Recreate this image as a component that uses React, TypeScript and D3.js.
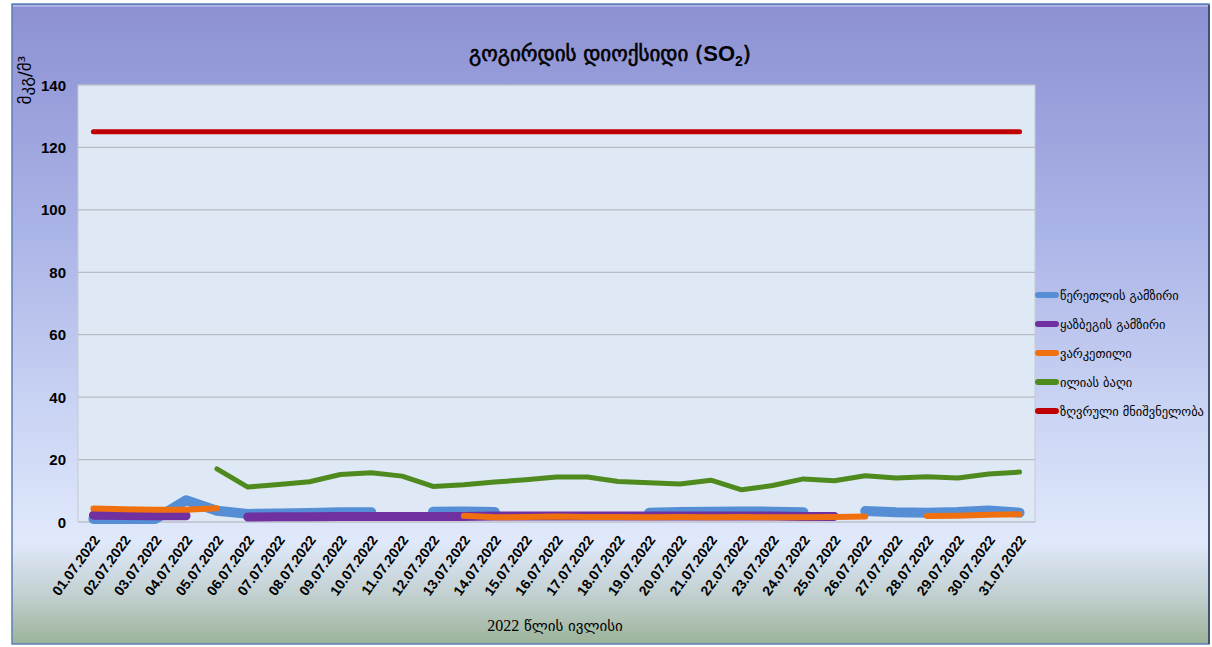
import React from "react";
import * as d3 from "d3";

const dates = [
  "01.07.2022","02.07.2022","03.07.2022","04.07.2022","05.07.2022","06.07.2022","07.07.2022","08.07.2022",
  "09.07.2022","10.07.2022","11.07.2022","12.07.2022","13.07.2022","14.07.2022","15.07.2022","16.07.2022",
  "17.07.2022","18.07.2022","19.07.2022","20.07.2022","21.07.2022","22.07.2022","23.07.2022","24.07.2022",
  "25.07.2022","26.07.2022","27.07.2022","28.07.2022","29.07.2022","30.07.2022","31.07.2022",
];

const tsereteli: (number | null)[] = [
  1.0, 1.0, 1.0, 7.0, 3.6, 2.6, 2.7, 2.9, 3.1, 3.1, null, 3.3, 3.4, 3.2, null, null,
  null, null, 3.0, 3.2, 3.3, 3.4, 3.3, 3.1, null, 3.5, 3.1, 3.0, 3.2, 3.7, 3.0,
];
const kazbegi: (number | null)[] = [
  2.2, 2.1, 2.0, 2.0, null, 1.6, 1.7, 1.7, 1.8, 1.8, 1.8, 1.8, 1.8, 1.9, 1.9, 1.9,
  1.9, 1.9, 1.9, 1.9, 1.9, 1.9, 1.9, 1.8, 1.8, null, null, null, null, null, null,
];
const varketili: (number | null)[] = [
  4.3, 4.1, 3.9, 3.9, 4.4, null, null, null, null, null, null, null, 2.0, 1.5, 1.6, 1.8,
  1.6, 1.6, 1.5, 1.6, 1.5, 1.6, 1.5, 1.5, 1.6, 1.8, null, 1.9, 2.0, 2.3, 2.5,
];
const iliasBagi: (number | null)[] = [
  null, null, null, null, 17.0, 11.2, 12.0, 12.9, 15.2, 15.8, 14.7, 11.4, 11.9, 12.8, 13.5, 14.4,
  14.4, 13.0, 12.6, 12.2, 13.4, 10.3, 11.7, 13.8, 13.2, 14.8, 14.1, 14.5, 14.1, 15.4, 16.0,
];
const limitValue: (number | null)[] = [
  125, 125, 125, 125, 125, 125, 125, 125, 125, 125, 125, 125, 125, 125, 125, 125,
  125, 125, 125, 125, 125, 125, 125, 125, 125, 125, 125, 125, 125, 125, 125,
];

const seriesNames = [
  "წერეთლის გამზირი",
  "ყაზბეგის გამზირი",
  "ვარკეთილი",
  "ილიას ბაღი",
  "ზღვრული მნიშვნელობა",
];
const seriesValues = [tsereteli, kazbegi, varketili, iliasBagi, limitValue];
const seriesColors = ["#558ed5", "#7030a0", "#f07010", "#4f8a1e", "#c00000"];
const seriesWidths = [10, 9, 6, 5, 5];

const yTicks = [0, 20, 40, 60, 80, 100, 120, 140];

const W = 1212;
const H = 647;
const plot = { left: 78, right: 1035, top: 85, bottom: 522 };

const GEO = "'DejaVu Sans', 'Noto Sans', sans-serif";
const NUM = "'Liberation Sans', Arial, sans-serif";

export default function App() {
  const x = d3
    .scaleBand<string>()
    .domain(dates)
    .range([plot.left, plot.right]);
  const cx = (d: string) => (x(d) as number) + x.bandwidth() / 2;
  const y = d3.scaleLinear().domain([0, 140]).range([plot.bottom, plot.top]);

  const lineGen = d3
    .line<number | null>()
    .defined((d) => d != null)
    .x((_, i) => cx(dates[i]))
    .y((d) => y(d as number));

  return (
    <svg
      width={W}
      height={H}
      style={{ position: "absolute", left: 0, top: 0 }}
      xmlns="http://www.w3.org/2000/svg"
    >
      <defs>
        <linearGradient id="bg" x1="0" y1="0" x2="0" y2="1">
          <stop offset="0" stopColor="#8c90d2" />
          <stop offset="0.35" stopColor="#aab3e6" />
          <stop offset="0.6" stopColor="#c6d0f2" />
          <stop offset="0.84" stopColor="#e0e9fb" />
          <stop offset="0.92" stopColor="#c3d1d2" />
          <stop offset="1" stopColor="#9cb399" />
        </linearGradient>
      </defs>
      <rect x={0} y={0} width={W} height={H} fill="#ffffff" />
      <rect x={12} y={4} width={1197} height={640} fill="url(#bg)" stroke="#5b7fb5" strokeWidth={1.5} />
      <line x1={1209} y1={5} x2={1209} y2={644} stroke="#3f5270" strokeWidth={2} />
      <line x1={13} y1={6} x2={1208} y2={6} stroke="#b9bff0" strokeWidth={1.5} />

      {/* plot area */}
      <rect
        x={plot.left}
        y={plot.top}
        width={plot.right - plot.left}
        height={plot.bottom - plot.top}
        fill="#dfe8f5"
        stroke="#c5cad3"
        strokeWidth={1}
      />
      {yTicks.map((t) => (
        <line
          key={"g" + t}
          x1={plot.left}
          x2={plot.right}
          y1={y(t)}
          y2={y(t)}
          stroke="#b8bcc4"
          strokeWidth={1.2}
        />
      ))}
      {yTicks.map((t) => (
        <text
          key={"t" + t}
          x={66}
          y={y(t)}
          textAnchor="end"
          dominantBaseline="central"
          fontFamily={NUM}
          fontWeight="bold"
          fontSize={15}
          fill="#000"
        >
          {t}
        </text>
      ))}

      {/* series */}
      {seriesValues.map((vals, i) => (
        <path
          key={"s" + i}
          d={lineGen(vals) || ""}
          fill="none"
          stroke={seriesColors[i]}
          strokeWidth={seriesWidths[i]}
          strokeLinecap="round"
          strokeLinejoin="round"
        />
      ))}

      {/* x tick labels */}
      {dates.map((d) => (
        <text
          key={"x" + d}
          transform={`translate(${cx(d) + 3},${537}) rotate(-54)`}
          textAnchor="end"
          dominantBaseline="central"
          fontFamily={NUM}
          fontWeight="bold"
          fontSize={14}
          fill="#000"
        >
          {d}
        </text>
      ))}

      {/* title */}
      <text
        x={610}
        y={61}
        textAnchor="middle"
        fontFamily={GEO}
        fontSize={21}
        stroke="#000"
        strokeWidth={0.6}
        fill="#000"
      >
        გოგირდის დიოქსიდი (
        <tspan fontFamily={NUM} fontWeight="bold" fontSize={22} strokeWidth={0}>SO</tspan>
        <tspan fontFamily={NUM} fontWeight="bold" fontSize={14} dy={5} strokeWidth={0}>2</tspan>
        <tspan dy={-5}>)</tspan>
      </text>

      {/* y axis title */}
      <text
        transform={`translate(31,${80}) rotate(-90)`}
        textAnchor="middle"
        fontFamily={GEO}
        fontSize={17}
        fill="#000"
      >
        მკგ/მ³
      </text>

      {/* x axis title */}
      <text
        x={555}
        y={631}
        textAnchor="middle"
        fontFamily={GEO}
        fontSize={15}
        fill="#000"
      >
        <tspan fontFamily="'Liberation Serif', serif" fontSize={16}>2022</tspan> წლის ივლისი
      </text>

      {/* legend */}
      {seriesNames.map((name, i) => {
        const ly = 295 + i * 29;
        return (
          <g key={"l" + i}>
            <line
              x1={1038}
              x2={1056}
              y1={ly}
              y2={ly}
              stroke={seriesColors[i]}
              strokeWidth={6}
              strokeLinecap="round"
            />
            <text
              x={1060}
              y={ly}
              dominantBaseline="central"
              fontFamily={GEO}
              fontSize={12.5}
              fill="#000"
            >
              {name}
            </text>
          </g>
        );
      })}
    </svg>
  );
}
